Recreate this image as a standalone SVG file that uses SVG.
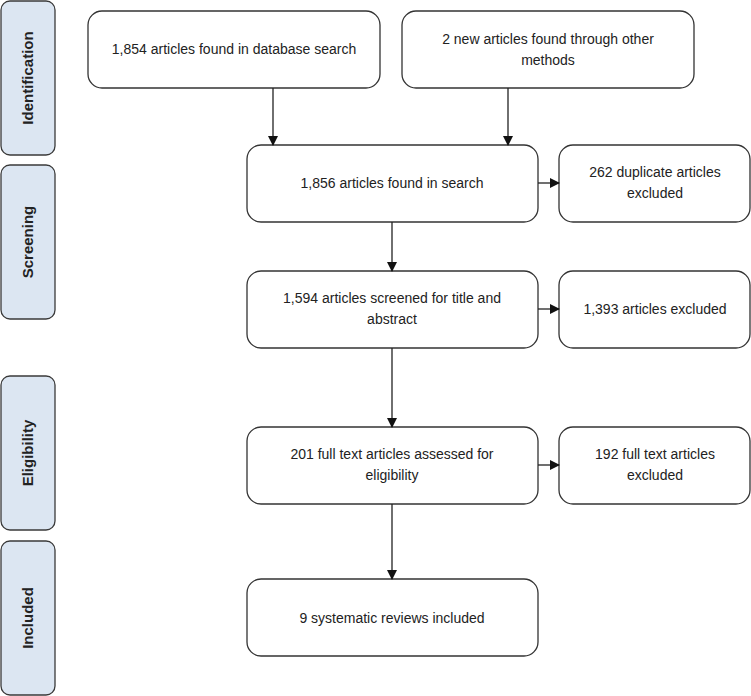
<svg xmlns="http://www.w3.org/2000/svg" width="751" height="696" viewBox="0 0 751 696">
<defs>
<style>
.side{fill:#dce6f2;stroke:#3a3a3a;stroke-width:1.3}
.box{fill:#fff;stroke:#333;stroke-width:1.3}
.t{font-family:"Liberation Sans",Arial,sans-serif;font-size:14px;fill:#222;text-anchor:middle}
.s{font-family:"Liberation Sans",Arial,sans-serif;font-size:15px;font-weight:bold;fill:#222;text-anchor:middle}
.c{stroke:#222;stroke-width:1.3;fill:none;marker-end:url(#ah)}
</style>
<marker id="ah" markerWidth="10" markerHeight="10" refX="9" refY="5" orient="auto" markerUnits="userSpaceOnUse">
<path d="M0,0 L10,5 L0,10 Z" fill="#111"/>
</marker>
</defs>
<g id="lbl-identification"><rect class="side" x="1" y="1" width="54" height="154" rx="9"/><text class="s" transform="translate(33,78) rotate(-90)">Identification</text></g>
<g id="lbl-screening"><rect class="side" x="1" y="165" width="54" height="154" rx="9"/><text class="s" transform="translate(33,242) rotate(-90)">Screening</text></g>
<g id="lbl-eligibility"><rect class="side" x="1" y="376" width="54" height="154" rx="9"/><text class="s" transform="translate(33,453) rotate(-90)">Eligibility</text></g>
<g id="lbl-included"><rect class="side" x="1" y="541" width="54" height="154" rx="9"/><text class="s" transform="translate(33,618) rotate(-90)">Included</text></g>

<g id="n1"><rect class="box" x="88" y="11" width="292" height="77" rx="14"/><text class="t" x="234" y="54">1,854 articles found in database search</text></g>
<g id="n2"><rect class="box" x="402" y="11" width="292" height="77" rx="14"/><text class="t" x="548" y="44">2 new articles found through other</text><text class="t" x="548" y="65">methods</text></g>
<g id="n3"><rect class="box" x="247" y="145" width="291" height="77" rx="14"/><text class="t" x="392" y="188">1,856 articles found in search</text></g>
<g id="n4"><rect class="box" x="559" y="145" width="191" height="77" rx="14"/><text class="t" x="655" y="177">262 duplicate articles</text><text class="t" x="655" y="198">excluded</text></g>
<g id="n5"><rect class="box" x="247" y="271" width="291" height="77" rx="14"/><text class="t" x="392" y="303">1,594 articles screened for title and</text><text class="t" x="392" y="324">abstract</text></g>
<g id="n6"><rect class="box" x="559" y="271" width="191" height="77" rx="14"/><text class="t" x="655" y="314">1,393 articles excluded</text></g>
<g id="n7"><rect class="box" x="247" y="427" width="291" height="77" rx="14"/><text class="t" x="392" y="459">201 full text articles assessed for</text><text class="t" x="392" y="480">eligibility</text></g>
<g id="n8"><rect class="box" x="559" y="427" width="191" height="77" rx="14"/><text class="t" x="655" y="459">192 full text articles</text><text class="t" x="655" y="480">excluded</text></g>
<g id="n9"><rect class="box" x="247" y="579" width="291" height="77" rx="14"/><text class="t" x="392" y="623">9 systematic reviews included</text></g>

<g id="connectors">
<line class="c" x1="273" y1="88" x2="273" y2="145"/>
<line class="c" x1="508" y1="88" x2="508" y2="145"/>
<line class="c" x1="392" y1="222" x2="392" y2="271"/>
<line class="c" x1="392" y1="348" x2="392" y2="427"/>
<line class="c" x1="392" y1="504" x2="392" y2="579"/>
<line class="c" x1="538" y1="183" x2="559" y2="183"/>
<line class="c" x1="538" y1="309" x2="559" y2="309"/>
<line class="c" x1="538" y1="465" x2="559" y2="465"/>
</g>
</svg>
